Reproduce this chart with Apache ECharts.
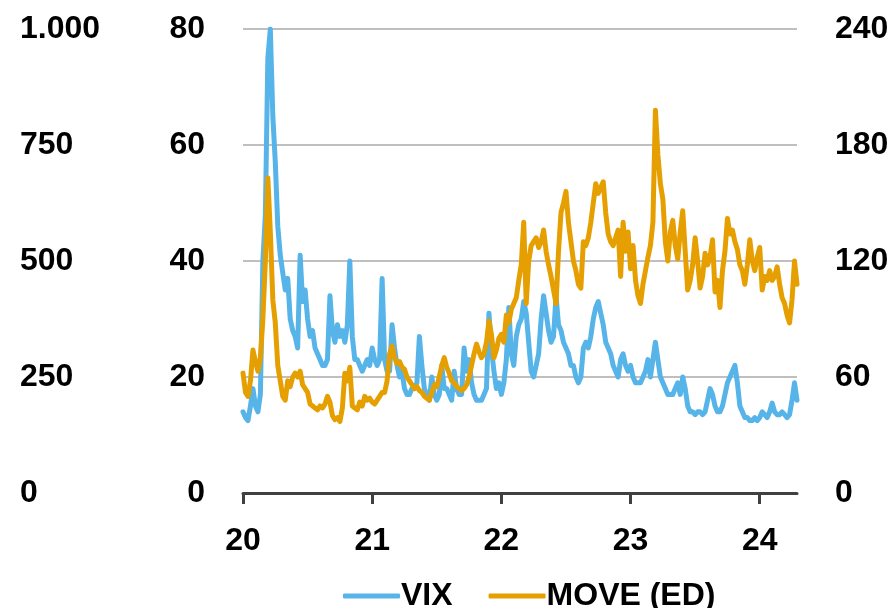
<!DOCTYPE html>
<html>
<head>
<meta charset="utf-8">
<title>VIX vs MOVE</title>
<script src="https://cdn.jsdelivr.net/npm/echarts@6/dist/echarts.min.js"></script>
<style>
  html, body { margin: 0; padding: 0; background: #fff; }
  #chart { width: 894px; height: 608px; }
</style>
</head>
<body>
<div id="chart"></div>
<script>
// weekly readings, first week starts 2020-01-01
var startDate = '2020-01-01';

// VIX (left axis, 0-80)
var vix2020 = [14, 13, 12.5, 15, 18, 15, 14, 17, 40, 48, 75, 80, 65, 57, 46, 41, 38, 35, 37, 30,
  28, 27, 25, 41, 33, 35, 30, 27, 28, 25, 24, 23, 22, 22, 23, 34, 28, 26, 29, 27,
  28, 26, 29, 40, 27, 23, 23, 22, 21, 22, 23, 22];
var vix2021 = [25, 23, 22, 23, 37, 23, 21, 21, 29, 25, 22, 20, 21, 18, 17, 17, 18, 18, 19, 27,
  22, 18, 17, 16, 20, 17, 16, 17, 22, 18, 18, 17, 16, 21, 18, 17, 17, 25, 21, 23,
  19, 17, 16, 16, 16, 17, 18, 31, 25, 21, 18, 19];
var vix2022 = [17, 19, 23, 32, 24, 22, 27, 29, 30, 33, 31, 26, 21, 20, 22, 24, 30, 34, 31, 28,
  26, 27, 34, 29, 28, 26, 25, 24, 22, 22, 20, 19, 20, 25, 26, 25, 27, 30, 32, 33,
  31, 29, 26, 25, 24, 22, 21, 20, 23, 24, 22, 21];
var vix2023 = [22, 20, 19, 19, 19, 20, 21, 23, 20, 23, 26, 23, 20, 19, 18, 17, 17, 17, 18, 19,
  17, 20, 18, 15, 14, 14, 13.5, 14, 14, 13.5, 14, 16, 18, 17, 15, 14, 14, 15, 17, 19,
  20, 21, 22, 19, 15, 14, 13, 13, 12.5, 12.5, 13, 12.5];
var vix2024 = [13, 14, 13.5, 13, 14, 15.5, 14, 13.5, 13.5, 14, 13.5, 13, 13.5, 16, 19, 16];

// MOVE (ED) (right axis, 0-240)
var move2020 = [62, 52, 50, 58, 74, 68, 63, 70, 90, 120, 163, 135, 100, 88, 66, 58, 50, 48, 58, 55,
  60, 62, 60, 63, 56, 54, 52, 46, 45, 44, 43, 45, 44, 46, 50, 47, 40, 38, 39, 37,
  44, 62, 58, 65, 45, 44, 43, 47, 45, 50, 48, 49];
var move2021 = [47, 46, 48, 50, 52, 52, 58, 72, 76, 70, 67, 68, 65, 64, 60, 58, 56, 54, 55, 53,
  52, 50, 49, 48, 52, 56, 55, 60, 66, 70, 65, 62, 58, 57, 55, 54, 53, 54, 56, 60,
  66, 72, 77, 73, 70, 72, 78, 89, 82, 70, 74, 80];
var move2022 = [82, 78, 92, 88, 95, 98, 101, 110, 118, 140, 98, 120, 128, 130, 132, 127, 130, 136, 125, 118,
  112, 105, 98, 125, 145, 150, 156, 140, 130, 120, 115, 108, 106, 130, 128, 132, 140, 150, 160, 155,
  158, 161, 145, 134, 130, 128, 132, 136, 112, 140, 125, 135];
var move2023 = [116, 128, 110, 102, 98, 108, 115, 122, 128, 140, 198, 175, 160, 152, 130, 120, 135, 141, 128, 121,
  135, 146, 125, 105, 110, 118, 132, 120, 106, 112, 124, 118, 122, 131, 104, 110, 96, 115, 125, 142,
  134, 136, 130, 126, 118, 115, 108, 118, 131, 120, 115, 122];
var move2024 = [127, 105, 112, 110, 115, 110, 112, 117, 108, 101, 98, 92, 88, 100, 120, 108];

// tick labels
var vixTicks = [0, 20, 40, 60, 80];
var moveTicks = [0, 60, 120, 180, 240];
var farTicks = [0, 250, 500, 750, 1000];
var farTickLabels = ['0', '250', '500', '750', '1.000'];

var vix = vix2020.concat(vix2021, vix2022, vix2023, vix2024);
var move = move2020.concat(move2021, move2022, move2023, move2024);

// week start dates
var DAY = 86400000;
var t0 = new Date(startDate + 'T00:00:00Z').getTime();
var weeks = [];
for (var i = 0; i < vix.length; i++) {
  weeks.push(new Date(t0 + i * 7 * DAY).toISOString().slice(0, 10));
}

// a week carries a year tick when 1 January falls inside it
function weekYear(value) {
  var t = new Date(value + 'T00:00:00Z').getTime();
  return new Date(t + 6 * DAY).getUTCFullYear();
}
function isYearWeek(index, value) {
  var t = new Date(value + 'T00:00:00Z').getTime();
  var a = new Date(t).getUTCFullYear();
  return index === 0 || a !== new Date(t + 6 * DAY).getUTCFullYear() || value.slice(5) === '01-01';
}

var font = {
  color: '#000',
  fontSize: 32,
  fontWeight: 'bold',
  fontFamily: 'Liberation Sans'
};

var chart = echarts.init(document.getElementById('chart'), null, { renderer: 'canvas' });

var option = {
  animation: false,
  backgroundColor: '#fff',
  grid: {
    left: 243,
    right: 97,
    top: 29,
    bottom: 115,
    containLabel: false,
    outerBoundsMode: 'none'
  },
  legend: {
    data: ['VIX', 'MOVE (ED)'],
    left: 338,
    top: 575,
    icon: 'roundRect',
    itemWidth: 57,
    itemHeight: 5,
    itemGap: 36,
    textStyle: Object.assign({}, font, { padding: [0, 0, 0, -4] })
  },
  xAxis: {
    type: 'category',
    data: weeks,
    boundaryGap: false,
    axisLine: {
      lineStyle: { color: '#404040', width: 3 }
    },
    axisTick: {
      show: true,
      interval: isYearWeek,
      length: 11,
      lineStyle: { color: '#404040', width: 3 }
    },
    axisLabel: Object.assign({}, font, {
      interval: isYearWeek,
      margin: 32,
      formatter: function (value) {
        return String(weekYear(value)).slice(2);
      }
    }),
    splitLine: { show: false }
  },
  yAxis: [
    {
      type: 'value',
      position: 'left',
      min: vixTicks[0],
      max: vixTicks[vixTicks.length - 1],
      interval: vixTicks[1] - vixTicks[0],
      axisLine: { show: false },
      axisTick: { show: false },
      splitLine: {
        lineStyle: { color: '#BFBFBF', width: 2 }
      },
      axisLabel: Object.assign({}, font, { margin: 38 })
    },
    {
      type: 'value',
      position: 'right',
      min: moveTicks[0],
      max: moveTicks[moveTicks.length - 1],
      interval: moveTicks[1] - moveTicks[0],
      axisLine: { show: false },
      axisTick: { show: false },
      splitLine: { show: false },
      axisLabel: Object.assign({}, font, { margin: 38 })
    },
    {
      // outer scale on the far left, no series on it
      type: 'value',
      position: 'left',
      offset: 215,
      min: farTicks[0],
      max: farTicks[farTicks.length - 1],
      interval: farTicks[1] - farTicks[0],
      axisLine: { show: false },
      axisTick: { show: false },
      splitLine: { show: false },
      axisLabel: Object.assign({}, font, {
        align: 'left',
        margin: 8,
        formatter: function (value) {
          var k = farTicks.indexOf(value);
          return k >= 0 ? farTickLabels[k] : '';
        }
      })
    }
  ],
  series: [
    {
      name: 'VIX',
      type: 'line',
      yAxisIndex: 0,
      data: vix,
      showSymbol: false,
      symbol: 'none',
      color: '#56B4E9',
      lineStyle: { width: 5, color: '#56B4E9', cap: 'round', join: 'round' }
    },
    {
      name: 'MOVE (ED)',
      type: 'line',
      yAxisIndex: 1,
      data: move,
      showSymbol: false,
      symbol: 'none',
      color: '#E69F00',
      lineStyle: { width: 5, color: '#E69F00', cap: 'round', join: 'round' }
    }
  ]
};

chart.setOption(option);
</script>
</body>
</html>
